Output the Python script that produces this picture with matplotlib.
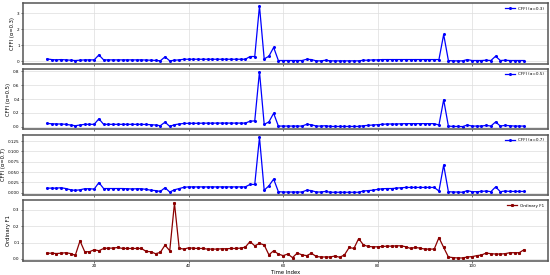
import numpy as np
import matplotlib
matplotlib.use("Agg")
from matplotlib import pyplot as plt

# Time index of every sample
time_index = list(range(10, 112))

# CFFI with alpha = 0.3
cffi_03 = [
    0.14, 0.10, 0.08, 0.10, 0.08, 0.06, 0.04, 0.06, 0.08, 0.08,
    0.08, 0.39, 0.08, 0.08, 0.08, 0.08, 0.08, 0.08, 0.08, 0.08,
    0.08, 0.07, 0.06, 0.05, 0.02, 0.27, 0.02, 0.06, 0.08, 0.12,
    0.12, 0.12, 0.12, 0.12, 0.12, 0.12, 0.12, 0.12, 0.12, 0.12,
    0.12, 0.12, 0.12, 0.29, 0.29, 3.45, 0.14, 0.31, 0.86, 0.04,
    0.04, 0.04, 0.04, 0.04, 0.04, 0.12, 0.10, 0.02, 0.02, 0.06,
    0.02, 0.02, 0.02, 0.02, 0.02, 0.02, 0.02, 0.06, 0.06, 0.08,
    0.08, 0.10, 0.10, 0.10, 0.10, 0.10, 0.10, 0.10, 0.10, 0.10,
    0.10, 0.10, 0.10, 0.10, 1.67, 0.04, 0.02, 0.02, 0.02, 0.10,
    0.04, 0.04, 0.04, 0.06, 0.04, 0.31, 0.04, 0.06, 0.04, 0.04,
    0.04, 0.04,
]

# CFFI with alpha = 0.5
cffi_05 = [
    0.048, 0.043, 0.040, 0.040, 0.035, 0.025, 0.015, 0.025, 0.035, 0.035,
    0.035, 0.115, 0.035, 0.035, 0.035, 0.035, 0.035, 0.035, 0.035, 0.035,
    0.035, 0.033, 0.030, 0.025, 0.015, 0.067, 0.005, 0.030, 0.040, 0.048,
    0.050, 0.050, 0.050, 0.052, 0.052, 0.052, 0.053, 0.053, 0.053, 0.053,
    0.053, 0.053, 0.053, 0.080, 0.085, 0.795, 0.035, 0.070, 0.195, 0.010,
    0.010, 0.010, 0.010, 0.010, 0.010, 0.035, 0.030, 0.010, 0.010, 0.015,
    0.005, 0.005, 0.005, 0.005, 0.005, 0.005, 0.005, 0.015, 0.020, 0.025,
    0.030, 0.035, 0.040, 0.040, 0.040, 0.043, 0.045, 0.045, 0.045, 0.045,
    0.045, 0.045, 0.045, 0.025, 0.390, 0.010, 0.005, 0.005, 0.003, 0.025,
    0.010, 0.010, 0.010, 0.020, 0.010, 0.070, 0.010, 0.020, 0.015, 0.010,
    0.010, 0.010,
]

# CFFI with alpha = 0.7
cffi_07 = [
    0.011, 0.011, 0.011, 0.012, 0.010, 0.007, 0.0055, 0.007, 0.0095, 0.0095,
    0.0087, 0.0245, 0.010, 0.010, 0.010, 0.010, 0.010, 0.0095, 0.009, 0.0095,
    0.0095, 0.008, 0.006, 0.005, 0.003, 0.012, 0.0016, 0.007, 0.010, 0.013,
    0.014, 0.014, 0.014, 0.014, 0.014, 0.014, 0.014, 0.014, 0.014, 0.014,
    0.014, 0.014, 0.014, 0.020, 0.020, 0.134, 0.006, 0.0166, 0.033, 0.0024,
    0.0016, 0.0016, 0.0016, 0.0016, 0.0016, 0.006, 0.005, 0.0016, 0.0016, 0.003,
    0.001, 0.001, 0.001, 0.001, 0.001, 0.001, 0.001, 0.004, 0.005, 0.006,
    0.008, 0.0095, 0.010, 0.010, 0.011, 0.012, 0.0127, 0.0127, 0.0127, 0.0127,
    0.0127, 0.0127, 0.0127, 0.004, 0.067, 0.0024, 0.0016, 0.0016, 0.001, 0.005,
    0.0024, 0.0024, 0.003, 0.004, 0.0024, 0.014, 0.0024, 0.004, 0.003, 0.003,
    0.003, 0.003,
]

# Ordinary F1
ordinary_f1 = [
    0.035, 0.035, 0.033, 0.035, 0.038, 0.033, 0.022, 0.110, 0.044, 0.044,
    0.056, 0.050, 0.064, 0.066, 0.066, 0.070, 0.064, 0.064, 0.064, 0.064,
    0.064, 0.046, 0.044, 0.032, 0.040, 0.084, 0.050, 0.340, 0.065, 0.060,
    0.068, 0.065, 0.064, 0.064, 0.060, 0.060, 0.060, 0.062, 0.062, 0.064,
    0.064, 0.066, 0.072, 0.106, 0.080, 0.095, 0.085, 0.025, 0.050, 0.030,
    0.020, 0.030, 0.008, 0.036, 0.025, 0.020, 0.035, 0.015, 0.012, 0.012,
    0.012, 0.018, 0.010, 0.025, 0.070, 0.064, 0.124, 0.086, 0.076, 0.074,
    0.074, 0.076, 0.078, 0.078, 0.080, 0.080, 0.074, 0.064, 0.070, 0.066,
    0.060, 0.060, 0.060, 0.130, 0.070, 0.012, 0.008, 0.006, 0.006, 0.012,
    0.014, 0.020, 0.024, 0.036, 0.032, 0.030, 0.030, 0.032, 0.038, 0.038,
    0.038, 0.056,
]

series = [
    (cffi_03, "CFFI (α=0.3)", "#0000ff", "o"),
    (cffi_05, "CFFI (α=0.5)", "#0000ff", "o"),
    (cffi_07, "CFFI (α=0.7)", "#0000ff", "o"),
    (ordinary_f1, "Ordinary F1", "#8b0000", "s"),
]

fig, axes = plt.subplots(4, 1, sharex=True, figsize=(5.5, 2.75), dpi=100)
fig.subplots_adjust(left=0.042, right=0.996, top=0.988, bottom=0.052, hspace=0.09)

for ax, (values, label, color, marker) in zip(axes, series):
    ax.plot(time_index, values, color=color, marker=marker, markersize=1.2,
            linewidth=0.9, label=label)
    ax.set_ylabel(label, fontsize=3.8, labelpad=1.5)
    ax.grid(True, color="#dddddd", linewidth=0.5)
    ax.tick_params(labelsize=3, length=1.5, width=0.4, pad=1)
    for spine in ax.spines.values():
        spine.set_color("#555555")
        spine.set_linewidth(1.1)
    ax.legend(loc="upper right", fontsize=3, frameon=False, handlelength=2.5,
              borderaxespad=0.4)

axes[-1].set_xticks([20, 40, 60, 80, 100])
axes[-1].set_xlabel("Time Index", fontsize=3.8, labelpad=1)

fig.savefig("out.png", dpi=100)
